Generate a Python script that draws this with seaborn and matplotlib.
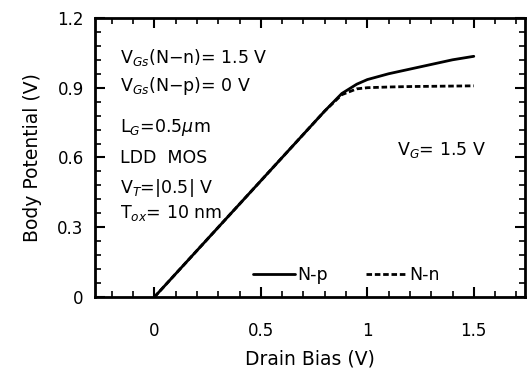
import numpy as np
import pandas as pd
import matplotlib
matplotlib.use("Agg")
import matplotlib.pyplot as plt
import seaborn as sns
from matplotlib.ticker import MultipleLocator

# Data
drain_bias_np = [0.0, 0.2, 0.4, 0.6, 0.8, 0.88, 0.95, 1.0, 1.1, 1.2, 1.3, 1.4, 1.5]
body_np = [0.0, 0.20, 0.40, 0.60, 0.80, 0.875, 0.915, 0.935, 0.96, 0.98, 1.0, 1.02, 1.035]
drain_bias_nn = [0.0, 0.2, 0.4, 0.6, 0.8, 0.88, 0.95, 1.0, 1.1, 1.2, 1.3, 1.4, 1.5]
body_nn = [0.0, 0.20, 0.40, 0.60, 0.80, 0.87, 0.895, 0.90, 0.903, 0.905, 0.906, 0.907, 0.908]
series_names = ["N-p", "N-n"]
x_ticks = [0, 0.5, 1, 1.5]
x_tick_labels = ["0", "0.5", "1", "1.5"]
y_ticks = [0, 0.3, 0.6, 0.9, 1.2]
y_tick_labels = ["0", "0.3", "0.6", "0.9", "1.2"]

df = pd.DataFrame({
    "Drain Bias": drain_bias_np + drain_bias_nn,
    "Body Potential": body_np + body_nn,
    "Device": [series_names[0]] * len(drain_bias_np) + [series_names[1]] * len(drain_bias_nn),
})

sns.set_theme(style="ticks")
plt.rcParams['font.family'] = ['DejaVu Sans']

fig = plt.figure(figsize=(5.27, 3.74), dpi=100)
ax = fig.add_axes([0.180, 0.206, 0.816, 0.746])

sns.lineplot(data=df, x="Drain Bias", y="Body Potential", style="Device",
             style_order=series_names, dashes={"N-p": "", "N-n": (2.0, 1.0)},
             color="black", linewidth=2, ax=ax, legend=True)

ax.set_xlim(-0.28, 1.74)
ax.set_ylim(0, 1.2)
ax.set_xticks(x_ticks)
ax.set_xticklabels(x_tick_labels)
ax.set_yticks(y_ticks)
ax.set_yticklabels(y_tick_labels)
ax.xaxis.set_minor_locator(MultipleLocator(0.1))
ax.yaxis.set_minor_locator(MultipleLocator(0.06))
ax.tick_params(which="both", direction="in", top=True, right=True, color="black",
               labelcolor="black")
ax.tick_params(which="major", length=7, width=1.5, labelsize=12)
ax.tick_params(axis="x", which="major", pad=18)
ax.tick_params(axis="y", which="major", pad=8)
ax.tick_params(which="minor", length=4, width=1.2)
for s in ax.spines.values():
    s.set_linewidth(2)
    s.set_color("black")

ax.set_xlabel("Drain Bias (V)", fontsize=13.5, labelpad=7, color="black")
ax.set_ylabel("Body Potential (V)", fontsize=13.5, labelpad=11, color="black")

leg = ax.legend(loc="lower center", bbox_to_anchor=(0.585, -0.01), ncol=2, frameon=False,
                fontsize=12.5, handlelength=2.4, handletextpad=0.1, columnspacing=2.2)
leg.set_title(None)
for t in leg.get_texts():
    t.set_color("black")

txt = dict(transform=ax.transAxes, fontsize=12.5, color="black", va="center", ha="left")
ax.text(0.058, 0.857, r"V$_{Gs}$(N$-$n)= 1.5 V", **txt)
ax.text(0.058, 0.756, r"V$_{Gs}$(N$-$p)= 0 V", **txt)
ax.text(0.058, 0.609, r"L$_{G}$=0.5$\mu$m", **txt)
ax.text(0.058, 0.498, "LDD  MOS", **txt)
ax.text(0.058, 0.391, r"V$_{T}$=|0.5| V", **txt)
ax.text(0.058, 0.301, r"T$_{ox}$= 10 nm", **txt)
ax.text(0.702, 0.527, r"V$_{G}$= 1.5 V", **txt)

fig.savefig("out.png", dpi=100)
